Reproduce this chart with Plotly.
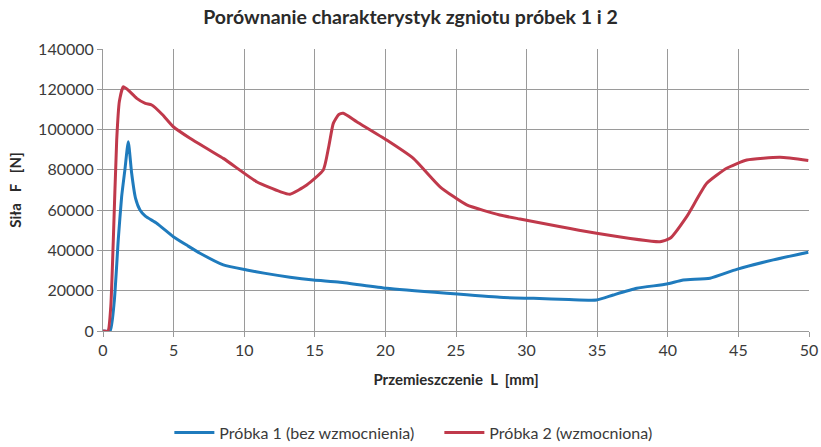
import plotly.graph_objects as go

# Próbka 1 (bez wzmocnienia)
x1 = [0, 0.5, 0.8, 1.08, 1.32, 1.55, 1.79, 2.03, 2.3, 2.62, 3.0, 3.8, 4.98, 6.0, 6.87, 8.52, 10.18, 11.5, 13.24, 14.9, 16.78, 20.09, 24.34, 28.1, 30.5, 33.0, 34.96, 36.14, 37.8, 39.92, 41.1, 42.99, 44.88, 47.47, 49.95]
y1 = [0, 0, 15000, 45200, 66700, 80000, 94000, 78300, 66000, 60100, 57000, 53500, 46800, 42300, 38600, 32800, 30300, 28600, 26700, 25300, 24200, 21200, 18700, 16700, 16200, 15600, 15400, 17900, 21200, 23300, 25300, 26200, 30600, 35300, 39100]

# Próbka 2 (wzmocniona)
x2 = [0, 0.35, 0.55, 0.73, 0.97, 1.16, 1.44, 1.8, 2.39, 3.0, 3.45, 4.2, 4.98, 6.16, 8.52, 10.88, 12.54, 13.24, 14.43, 15.6, 16.0, 16.31, 16.7, 17.02, 17.97, 20.09, 21.98, 23.87, 25.76, 28.1, 29.53, 34.96, 39.45, 40.16, 41.34, 42.76, 44.17, 45.59, 47.95, 49.95]
y2 = [0, 0, 12000, 45200, 94800, 114000, 121300, 119500, 115500, 113000, 112200, 107500, 101400, 95700, 85700, 74100, 69200, 67900, 72500, 79900, 92000, 103100, 107500, 108100, 103900, 94800, 85700, 71600, 62600, 57600, 55600, 48500, 44300, 46000, 56800, 73300, 80800, 84900, 86200, 84600]

names = ["Próbka 1 (bez wzmocnienia)", "Próbka 2 (wzmocniona)"]
colors = ["#1f7bbd", "#c0394b"]

x_ticks = list(range(0, 51, 5))
y_ticks = list(range(0, 140001, 20000))

font_family = "Lato, 'Open Sans', sans-serif"

fig = go.Figure()
fig.add_trace(go.Scatter(x=x1, y=y1, mode="lines", name=names[0],
                         line=dict(color=colors[0], width=3, shape="spline", smoothing=0.5)))
fig.add_trace(go.Scatter(x=x2, y=y2, mode="lines", name=names[1],
                         line=dict(color=colors[1], width=3, shape="spline", smoothing=0.5)))

fig.update_layout(
    width=821, height=447,
    margin=dict(l=103, r=12, t=49, b=116, autoexpand=False),
    paper_bgcolor="white", plot_bgcolor="white",
    font=dict(family=font_family, size=16, color="#3a3a3a"),
    title=dict(text="<b>Porównanie charakterystyk zgniotu próbek 1 i 2</b>",
               x=0.5, xanchor="center", y=0.962, yanchor="middle",
               font=dict(size=19.5, color="#2a2a2a")),
    showlegend=True,
    legend=dict(orientation="h", x=0.094, xanchor="left", y=-0.36, yanchor="middle",
                font=dict(size=16, color="#3a3a3a"), itemwidth=40,
                entrywidth=215, entrywidthmode="pixels",
                traceorder="normal", bgcolor="rgba(0,0,0,0)"),
)

fig.update_xaxes(
    range=[0, 50], tickvals=x_ticks, ticktext=[str(v) for v in x_ticks],
    showgrid=True, gridcolor="#9a9a9a", gridwidth=1,
    showline=True, linecolor="#9a9a9a", linewidth=1,
    ticks="outside", ticklen=5, tickcolor="#9a9a9a",
    zeroline=False, automargin=False,
    title=dict(text="<b>Przemieszczenie  L  [mm]</b>", standoff=16,
               font=dict(size=15, color="#2a2a2a")),
)
fig.update_yaxes(
    range=[0, 140000], tickvals=y_ticks, ticktext=[str(v) for v in y_ticks],
    showgrid=True, gridcolor="#9a9a9a", gridwidth=1,
    showline=True, linecolor="#9a9a9a", linewidth=1,
    ticks="outside", ticklen=5, tickcolor="#9a9a9a",
    zeroline=False, automargin=False,
    title=dict(text="<b>Siła   F   [N]</b>", standoff=12,
               font=dict(size=15, color="#2a2a2a")),
)

fig.write_html("out.html", config={"displayModeBar": False},
               post_script="document.body.style.margin='0';")
